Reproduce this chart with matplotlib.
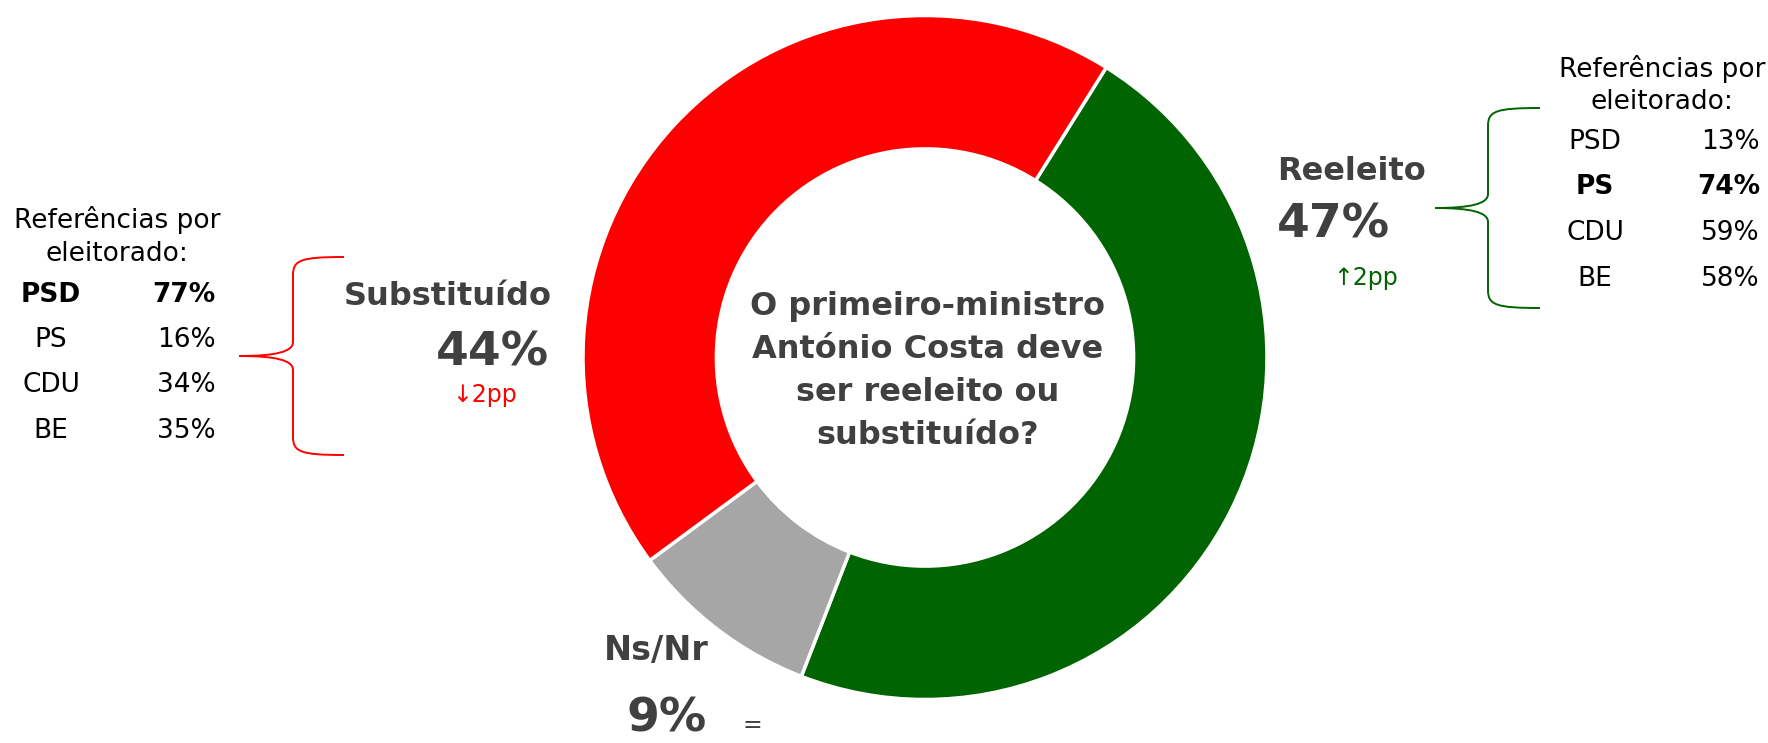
import matplotlib
matplotlib.use("Agg")
import matplotlib.pyplot as plt
from matplotlib.path import Path
from matplotlib.patches import PathPatch

# ---------------- data ----------------
categories = ["Reeleito", "Ns/Nr", "Substituído"]
shares = [47, 9, 44]
changes = ["↑2pp", "=", "↓2pp"]
slice_colors = ["#006400", "#A6A6A6", "#FF0000"]
change_colors = ["#006400", "#404040", "#FF0000"]

parties = ["PSD", "PS", "CDU", "BE"]
reeleito_by_party = [13, 74, 59, 58]
substituido_by_party = [77, 16, 34, 35]

question_lines = ["O primeiro-ministro", "António Costa deve",
                  "ser reeleito ou", "substituído?"]
table_title = ["Referências por", "eleitorado:"]

# ---------------- figure ----------------
W, H = 1768, 743
plt.rcParams["font.family"] = ["DejaVu Sans"]
fig = plt.figure(figsize=(W / 100, H / 100), dpi=100)
ax = fig.add_axes([0, 0, 1, 1])

cx, cy, R = 925, H - 357.5, 342
ax.pie(shares, colors=slice_colors, startangle=58, counterclock=False,
       radius=R, center=(cx, cy),
       wedgeprops=dict(width=R * 0.39, edgecolor="white", linewidth=2.5))
ax.set_xlim(0, W)
ax.set_ylim(0, H)
ax.set_aspect("equal")
ax.axis("off")

DARK = "#404040"


def T(x, y, s, **kw):
    kw.setdefault("va", "baseline")
    ax.text(x, H - y, s, **kw)


# center question
for line, yb in zip(question_lines, [315, 358, 401, 444]):
    T(928, yb, line, ha="center", fontsize=23, fontweight="bold", color=DARK)

# Reeleito (green)
T(1277, 180, categories[0], ha="left", fontsize=23, fontweight="bold", color=DARK)
T(1277, 238, f"{shares[0]}%", ha="left", fontsize=34, fontweight="bold", color=DARK)
T(1366, 285, changes[0], ha="center", fontsize=17, color=change_colors[0])

# Substituido (red)
T(344, 305, categories[2], ha="left", fontsize=23, fontweight="bold", color=DARK)
T(549, 365, f"{shares[2]}%", ha="right", fontsize=34, fontweight="bold", color=DARK)
T(485, 402, changes[2], ha="center", fontsize=17, color=change_colors[2])

# Ns/Nr (gray)
T(656, 660, categories[1], ha="center", fontsize=24, fontweight="bold", color=DARK)
T(667, 731, f"{shares[1]}%", ha="center", fontsize=34, fontweight="bold", color=DARK)
T(752, 732, changes[1], ha="center", fontsize=17, color=change_colors[1])


# tables
def table(title_x, title_ys, label_x, value_x, row_ys, values):
    for t, yb in zip(table_title, title_ys):
        T(title_x, yb, t, ha="center", fontsize=19, color="black")
    best = max(range(len(values)), key=lambda i: values[i])
    for i, (p, v, yb) in enumerate(zip(parties, values, row_ys)):
        fw = "bold" if i == best else "normal"
        T(label_x, yb, p, ha="center", fontsize=19, fontweight=fw, color="black")
        T(value_x, yb, f"{v}%", ha="right", fontsize=19, fontweight=fw, color="black")


table(117, [228, 261], 51, 216, [302, 347, 392, 438], substituido_by_party)
table(1662, [77, 109], 1595, 1760, [149, 194, 240, 286], reeleito_by_party)


# curly brackets
def bracket(x_end, x_bar, x_tip, y_top, y_bot, color):
    ym = (y_top + y_bot) / 2
    pts = [
        (x_end, y_top),
        (x_bar + 8, y_top), (x_bar, y_top + 3), (x_bar, y_top + 18),
        (x_bar, ym - 14),
        (x_bar, ym - 4), (x_bar - 18, ym), (x_tip, ym),
        (x_bar - 18, ym), (x_bar, ym + 4), (x_bar, ym + 14),
        (x_bar, y_bot - 18),
        (x_bar, y_bot - 3), (x_bar + 8, y_bot), (x_end, y_bot),
    ]
    codes = [Path.MOVETO,
             Path.CURVE4, Path.CURVE4, Path.CURVE4,
             Path.LINETO,
             Path.CURVE4, Path.CURVE4, Path.CURVE4,
             Path.CURVE4, Path.CURVE4, Path.CURVE4,
             Path.LINETO,
             Path.CURVE4, Path.CURVE4, Path.CURVE4]
    verts = [(x, H - y) for x, y in pts]
    ax.add_patch(PathPatch(Path(verts, codes), facecolor="none",
                           edgecolor=color, linewidth=1.4))


bracket(344, 293, 239, 257, 455, "#FF0000")
bracket(1540, 1488, 1435, 108, 308, "#006400")

fig.savefig("out.png", dpi=100)
